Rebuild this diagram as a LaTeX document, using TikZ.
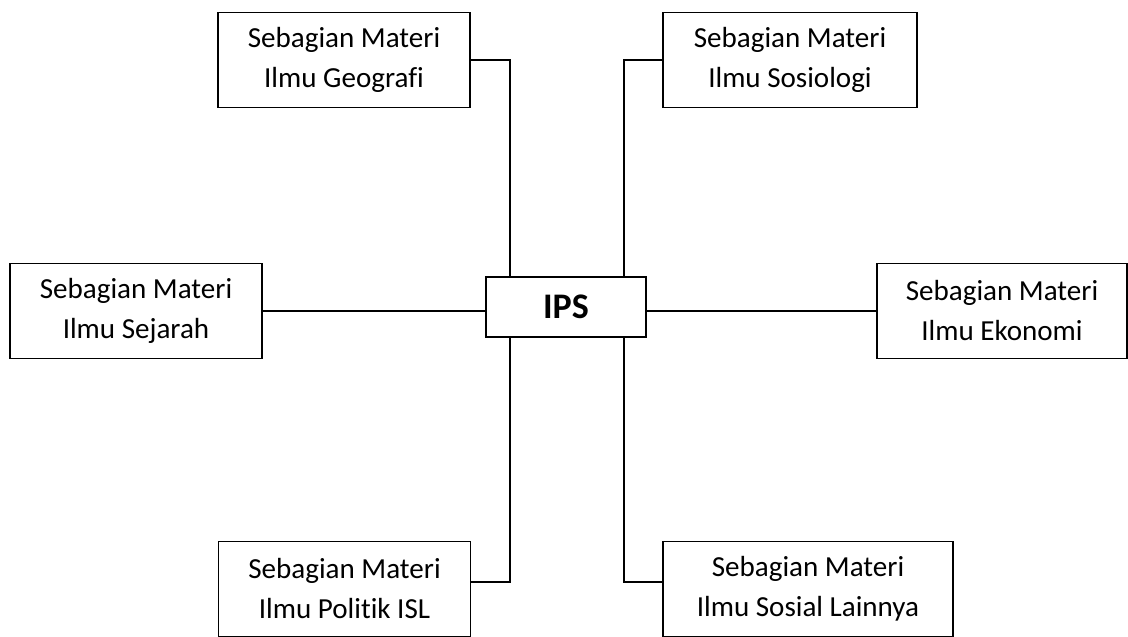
\documentclass[tikz,border=0pt]{standalone}
\usepackage{fontspec}
\setmainfont{Carlito}[Ligatures=NoCommon]
\usetikzlibrary{calc}
\begin{document}
\begin{tikzpicture}[x=0.75pt,y=-0.75pt,line width=1.2pt,
    kotak/.style={draw,align=center,inner sep=0pt,minimum width=189pt,minimum height=71pt,
        font=\fontsize{21.8}{30}\selectfont}]
        \useasboundingbox (0,0) rectangle (1128,636);
        \node[kotak] (ips) at (566,307) [minimum width=120pt,minimum height=45pt,font=\fontsize{27}{30}\selectfont\bfseries] {IPS};
        \node[kotak] (geo) at (344,60) {Sebagian Materi\\Ilmu Geografi};
        \node[kotak,minimum width=190.5pt] (sos) at (790,60) {Sebagian Materi\\Ilmu Sosiologi};
        \node[kotak] (sej) at (136,311) {Sebagian Materi\\Ilmu Sejarah};
        \node[kotak,minimum width=187.5pt] (eko) at (1002,311) {Sebagian Materi\\Ilmu Ekonomi};
        \node[kotak] (pol) at (344.5,589) {Sebagian Materi\\Ilmu Politik ISL};
        \node[kotak,minimum width=217.5pt] (lain) at (808,589) {Sebagian Materi\\Ilmu Sosial Lainnya};
        \draw (geo.east) -| ($(ips.north west)+(25,0)$);
        \draw (sos.west) -| ($(ips.north east)+(-23,0)$);
        \draw (sej.east) -- (sej.east -| ips.west);
        \draw (eko.west) -- (eko.west -| ips.east);
        \draw ($(ips.south west)+(25,0)$) |- ($(pol.east)+(0,-7)$);
        \draw ($(ips.south east)+(-23,0)$) |- ($(lain.west)+(0,-7)$);
    \end{tikzpicture}
\end{document}
